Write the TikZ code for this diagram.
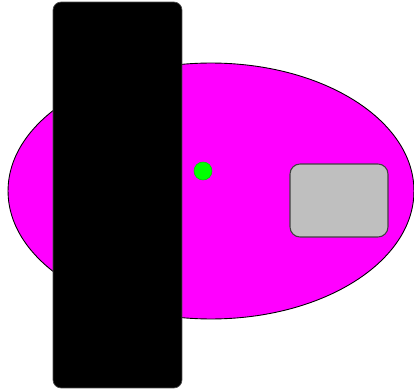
\documentclass[tikz,border=0pt]{standalone}
\usetikzlibrary{shapes.geometric}
\definecolor{hullpink}{RGB}{255,0,255}
\definecolor{eyegreen}{RGB}{0,255,0}

\begin{document}
\begin{tikzpicture}[
    x=0.02cm, y=-0.02cm,
    body/.style={ellipse, draw=black, fill=hullpink, line width=0.5pt,
                 minimum width=8.12cm, minimum height=5.12cm, inner sep=0pt},
    wheel/.style={rectangle, rounded corners=0.16cm, fill=black, draw=black!70,
                  minimum width=2.58cm, minimum height=7.72cm, inner sep=0pt},
    sensor/.style={circle, fill=eyegreen, draw=eyegreen!80!black, line width=0.3pt,
                   minimum size=0.36cm, inner sep=0pt},
    panel/.style={rectangle, rounded corners=0.2cm, fill=gray!50,
                  draw=black!75, line width=0.6pt,
                  minimum width=1.96cm, minimum height=1.46cm, inner sep=0pt}
]
\useasboundingbox (0, 0) rectangle (414, 389);

\node[body] (hull) at (211, 191) {};
\node[wheel] (track) at (117.5, 195) {};
\node[sensor] (eye) at (203, 171) {};
\node[panel] (hatch) at (339, 200.5) {};
\end{tikzpicture}
\end{document}
